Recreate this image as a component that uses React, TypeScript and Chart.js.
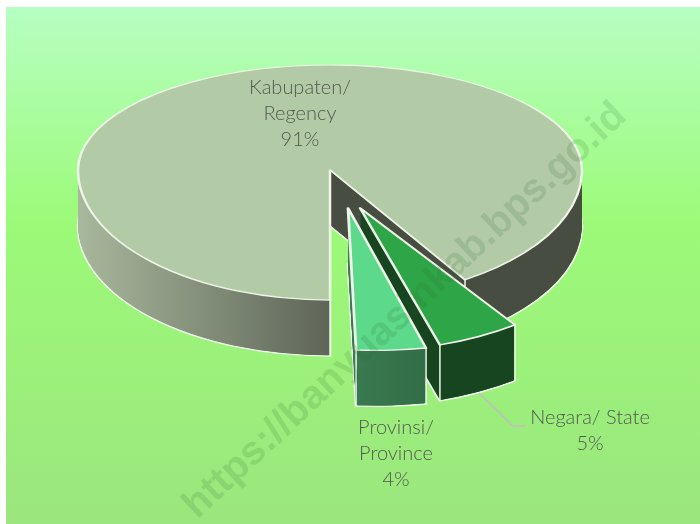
import React, { useEffect, useRef } from "react";
import { Chart, registerables } from "chart.js";

Chart.register(...registerables);

const categories = ["Kabupaten/ Regency", "Negara/ State", "Provinsi/ Province"];
const shares = [91, 5, 4];
const topColors = ["#b2cba6", "#2ea648", "#5cd98a"];
const watermark = "https://banyuasinkab.bps.go.id";

const DEPTH = 56;
const RADIUS = 252;
const FONT = '300 20px "Lato", "Open Sans", sans-serif';

// view matrices per slice: [a, b, c, d, originX, originY]
const views: number[][] = [
  [1, 0, 0, 0.516, 330, 170],
  [1.061, -0.031, 0.055, 0.569, 360, 208],
  [1.121, 0.04, 0.032, 0.5635, 348, 208],
];

const labelBlocks = [
  { lines: ["Kabupaten/", "Regency", "91%"], x: 300, y: 88 },
  { lines: ["Negara/ State", "5%"], x: 590, y: 418 },
  { lines: ["Provinsi/", "Province", "4%"], x: 396, y: 428 },
];

function sideFill(ctx: CanvasRenderingContext2D, i: number, cx: number) {
  const g = ctx.createLinearGradient(cx - RADIUS, 0, cx + RADIUS, 0);
  if (i === 0) {
    g.addColorStop(0, "#a8b89c");
    g.addColorStop(0.499, "#5e6558");
    g.addColorStop(0.5, "#484d41");
    g.addColorStop(1, "#484d41");
  } else if (i === 1) {
    g.addColorStop(0, "#16451f");
    g.addColorStop(1, "#16451f");
  } else {
    g.addColorStop(0.5, "#3a7a50");
    g.addColorStop(0.75, "#2a6040");
  }
  return g;
}

function arcOpts(fill: any, borderWidth: number) {
  return {
    backgroundColor: fill,
    borderColor: "#eef5e8",
    borderWidth,
    borderAlign: "center",
    borderJoinStyle: "round",
    borderRadius: 0,
    borderDash: [],
    borderDashOffset: 0,
    offset: 0,
    spacing: 0,
    circular: true,
  };
}

function paint(ctx: CanvasRenderingContext2D, arc: any, i: number, dy: number, opts: any) {
  const saved = arc.options;
  arc.options = opts;
  const v = views[i];
  const place = (c: number, d: number) => {
    ctx.transform(v[0], v[1], c, d, v[4], v[5] + dy);
    ctx.translate(-arc.x, -arc.y);
  };
  if (i === 0) {
    const splitY = v[5] + dy;
    ctx.save();
    ctx.beginPath();
    ctx.rect(0, 0, 700, splitY);
    ctx.clip();
    place(0, 0.417);
    arc.draw(ctx);
    ctx.restore();
    ctx.save();
    ctx.beginPath();
    ctx.rect(0, splitY, 700, 524 - splitY);
    ctx.clip();
    place(0, v[3]);
    arc.draw(ctx);
    ctx.restore();
  } else {
    ctx.save();
    place(v[2], v[3]);
    arc.draw(ctx);
    ctx.restore();
  }
  arc.options = saved;
}

function seam(ctx: CanvasRenderingContext2D, i: number, angle: number) {
  const v = views[i];
  const lx = RADIUS * Math.cos(angle);
  const ly = RADIUS * Math.sin(angle);
  const x = v[0] * lx + v[2] * ly + v[4];
  const y = v[1] * lx + v[3] * ly + v[5];
  ctx.beginPath();
  ctx.moveTo(x, y);
  ctx.lineTo(x, y + DEPTH);
  ctx.stroke();
}

const pie3d = {
  id: "pie3d",
  beforeDraw(chart: any) {
    const { ctx } = chart;
    const g = ctx.createLinearGradient(0, 7, 0, 524);
    g.addColorStop(0, "#b6ffc2");
    g.addColorStop(0.42, "#9cfa78");
    g.addColorStop(1, "#9be67e");
    ctx.save();
    ctx.fillStyle = g;
    ctx.fillRect(6, 7, 694, 517);
    ctx.restore();
  },
  beforeDatasetDraw(chart: any) {
    const { ctx } = chart;
    const arcs = chart.getDatasetMeta(0).data;
    arcs.forEach((arc: any, i: number) => {
      const fill = sideFill(ctx, i, arc.x);
      paint(ctx, arc, i, DEPTH, arcOpts(fill, 2.5));
      for (let d = DEPTH - 1; d > 0; d--) paint(ctx, arc, i, d, arcOpts(fill, 0));
      paint(ctx, arc, i, 0, arcOpts(topColors[i], 2.5));
      ctx.save();
      ctx.strokeStyle = "#eef5e8";
      ctx.lineWidth = 1.5;
      seam(ctx, i, arc.startAngle);
      seam(ctx, i, arc.endAngle);
      ctx.restore();
    });
    return false;
  },
  afterDraw(chart: any) {
    const { ctx } = chart;
    ctx.save();
    ctx.strokeStyle = "#c2bcc4";
    ctx.lineWidth = 1.5;
    ctx.beginPath();
    ctx.moveTo(479, 393);
    ctx.lineTo(513, 426);
    ctx.lineTo(525, 426);
    ctx.stroke();

    ctx.font = FONT;
    ctx.fillStyle = "#54594f";
    ctx.textAlign = "center";
    ctx.textBaseline = "middle";
    labelBlocks.forEach((b) => {
      b.lines.forEach((line, k) => ctx.fillText(line, b.x, b.y + k * 26));
    });

    ctx.translate(628, 118);
    ctx.rotate((-43 * Math.PI) / 180);
    ctx.font = 'bold 40px "Liberation Sans", sans-serif';
    ctx.textAlign = "right";
    ctx.textBaseline = "alphabetic";
    ctx.fillStyle = "rgba(40,100,40,0.15)";
    ctx.fillText(watermark, 0, 0);
    ctx.restore();
  },
};

export default function App() {
  const ref = useRef<HTMLCanvasElement>(null);
  useEffect(() => {
    const chart = new Chart(ref.current!, {
      type: "pie",
      data: {
        labels: categories,
        datasets: [{ data: shares, backgroundColor: topColors }],
      },
      options: {
        responsive: false,
        animation: false,
        rotation: 180,
        radius: RADIUS,
        layout: { padding: 0 },
        plugins: { legend: { display: false }, tooltip: { enabled: false } },
      },
      plugins: [pie3d],
    } as any);
    return () => chart.destroy();
  }, []);
  return (
    <div style={{ position: "fixed", left: 0, top: 0, width: 700, height: 524 }}>
      <canvas ref={ref} width={700} height={524} style={{ display: "block" }} />
    </div>
  );
}
